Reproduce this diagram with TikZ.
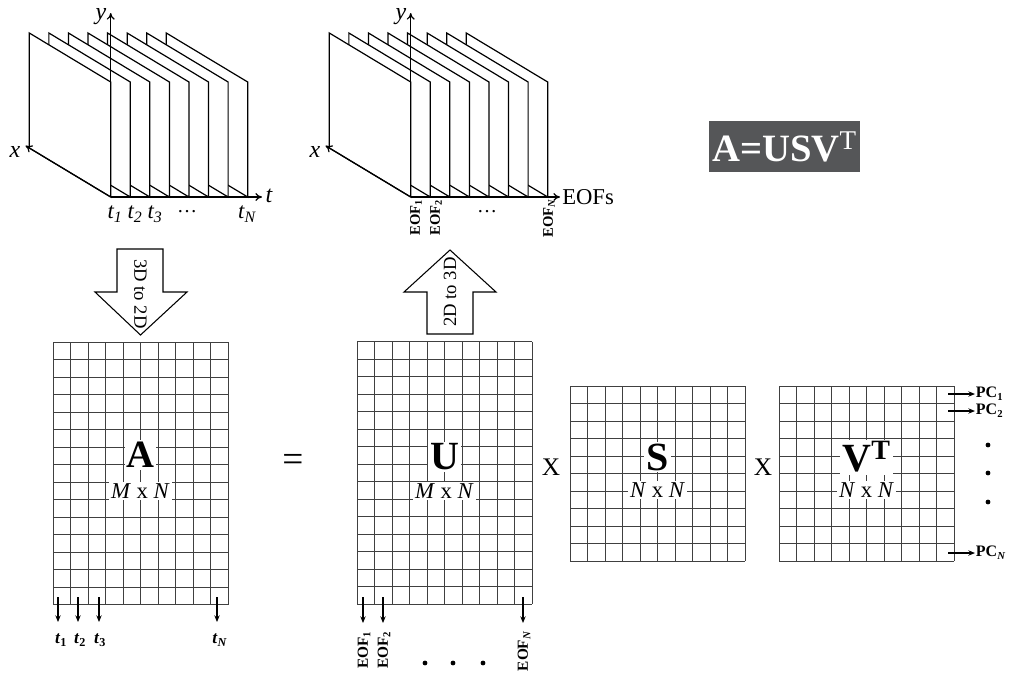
\documentclass[tikz,border=0pt]{standalone}
\usepackage{fontspec}
\setmainfont{Liberation Serif}
\usetikzlibrary{arrows.meta}
\definecolor{boxgray}{HTML}{555658}
\newcommand\fs[1]{\fontsize{#1}{#1}\selectfont}
\newcommand\drawstack[1]{%
  \foreach \k in {7,6,...,0}{%
    \pgfmathsetmacro\L{#1+29.3+19.57*\k}%
    \pgfmathsetmacro\R{\L+81.4}%
    \draw[plane] (\L,33) -- (\R,82) -- (\R,197) -- (\L,148) -- cycle;
  }%
}
\newcommand\matgrid[4]{%
  \foreach \i in {0,...,#3}{\draw[gline] ({#1+\i*17.5},#2) -- ++(0,{#4*17.5});}%
  \foreach \j in {0,...,#4}{\draw[gline] (#1,{#2+\j*17.5}) -- ++({#3*17.5},0);}%
}
\begin{document}
\begin{tikzpicture}[x=0.75pt,y=-0.75pt,
  plane/.style={draw=black,fill=white,line width=0.9pt,line join=miter},
  axis/.style={line width=0.9pt,-{To[length=5pt,width=6pt]}},
  gline/.style={draw=black!75,line width=0.75pt},
  blockarrow/.style={draw=black,fill=white,line width=0.8pt,line join=miter},
  darrow/.style={line width=0.8pt,-{Stealth[length=5pt,width=4pt]}},
  axlab/.style={font=\fs{18}\itshape,inner sep=0pt},
  tlab/.style={font=\fs{17}\itshape,inner sep=0pt},
  eoftop/.style={font=\fs{11}\bfseries,rotate=90,anchor=east,inner sep=0pt},
  eofbot/.style={font=\fs{11.5}\bfseries,rotate=90,anchor=east,inner sep=0pt},
  blab/.style={font=\fs{13}\bfseries,inner sep=0pt},
  pclab/.style={font=\fs{12}\bfseries,anchor=west,inner sep=0.5pt,text height=7pt,text depth=1.5pt},
  bigletter/.style={font=\fs{30}\bfseries,fill=white,inner sep=1.5pt},
  dimlab/.style={font=\fs{17},fill=white,inner sep=1.5pt},
  oplab/.style={font=\fs{19},inner sep=0pt},
  arrtext/.style={font=\fs{14},inner sep=0pt},
  dotnode/.style={circle,fill=black,inner sep=0pt,minimum size=3.6pt}
]
\useasboundingbox (0,0) rectangle (1009,676);

% ---------- left stack ----------
\drawstack{0}
\coordinate (o1) at (110.7,197);
\coordinate (y1) at (110.7,13);
\coordinate (t1) at (262,197);
\coordinate (x1) at (25.5,145.7);
\draw[axis] (o1) -- (y1);
\draw[axis] (o1) -- (t1);
\draw[axis] (o1) -- (x1);
\node[axlab] (ylab1) at (101,17) {y};
\node[axlab] (xlab1) at (15,152) {x};
\node[axlab] (tlab1) at (269,196) {t};
\node[tlab] (tt1) at (115,214) {t\textsubscript{1}};
\node[tlab] (tt2) at (135,214) {t\textsubscript{2}};
\node[tlab] (tt3) at (155,214) {t\textsubscript{3}};
\node[tlab,font=\fs{15}] (ttd) at (187,212) {\dots};
\node[tlab] (ttN) at (247,214) {t\textsubscript{N}};

% ---------- right stack ----------
\drawstack{300}
\coordinate (o2) at (410.7,197);
\coordinate (y2) at (410.7,13);
\coordinate (t2) at (560,197);
\coordinate (x2) at (325.5,145.7);
\draw[axis] (o2) -- (y2);
\draw[axis] (o2) -- (t2);
\draw[axis] (o2) -- (x2);
\node[axlab] (ylab2) at (401,17) {y};
\node[axlab] (xlab2) at (315,152) {x};
\node[font=\fs{17},anchor=west,inner sep=0pt] (eofs) at (562,197) {EOFs};
\node[eoftop] (e1) at (416,199) {EOF\textsubscript{1}};
\node[eoftop] (e2) at (436,199) {EOF\textsubscript{2}};
\node[tlab,font=\fs{15}] (ed) at (487,212) {\dots};
\node[eoftop] (eN) at (549,199) {EOF\textsubscript{\itshape N}};

% ---------- formula box ----------
\node[fill=boxgray,text=white,minimum width=113pt,minimum height=38pt,inner sep=0pt,font=\fs{29}] (formula)
  at (784.5,146.5) {\textbf{A=USV}\textsuperscript{T}};

% ---------- block arrows ----------
\draw[blockarrow] (117,249) -- (163,249) -- (163,292) -- (187,292) -- (140.5,335) -- (95,292) -- (117,292) -- cycle;
\node[arrtext,rotate=-90] (a32) at (140.5,294) {3D to 2D};
\draw[blockarrow] (450,250) -- (496,292) -- (473,292) -- (473,334) -- (427,334) -- (427,292) -- (404,292) -- cycle;
\node[arrtext,rotate=90] (a23) at (450,292) {2D to 3D};

% ---------- matrices ----------
\matgrid{53}{342}{10}{15}
\matgrid{357}{341.5}{10}{15}
\matgrid{570}{386}{10}{10}
\matgrid{779}{386}{10}{10}

\node[bigletter,font=\fs{29}\bfseries] (A) at (140.5,455) {A};
\node[dimlab] (Adim) at (140.5,491) {\textit{M} x \textit{N}};
\node[bigletter] (U) at (444.5,457) {U};
\node[dimlab] (Udim) at (444.5,491) {\textit{M} x \textit{N}};
\node[bigletter] (S) at (657.5,457) {S};
\node[dimlab] (Sdim) at (657.5,490) {\textit{N} x \textit{N}};
\node[bigletter] (V) at (866.5,457) {V\textsuperscript{T}};
\node[dimlab] (Vdim) at (866.5,490) {\textit{N} x \textit{N}};

\node[font=\fs{28}] (eq) at (293,463) {=};
\node[oplab] (x1op) at (551,467) {X};
\node[oplab] (x2op) at (763,467) {X};

% ---------- arrows below A ----------
\foreach \n/\xx in {a/58,b/78,c/99,d/217}{
  \coordinate (A\n s) at (\xx,597);
  \coordinate (A\n e) at (\xx,622);
  \draw[darrow] (A\n s) -- (A\n e);
}
\node[blab] (bt1) at (61,640) {\textit{t}\textsubscript{1}};
\node[blab] (bt2) at (80,640) {\textit{t}\textsubscript{2}};
\node[blab] (bt3) at (100,640) {\textit{t}\textsubscript{3}};
\node[blab] (btN) at (220,640) {\textit{t}\textsubscript{\textit{N}}};

% ---------- arrows below U ----------
\foreach \n/\xx in {a/363,b/383,c/523}{
  \coordinate (U\n s) at (\xx,597);
  \coordinate (U\n e) at (\xx,623);
  \draw[darrow] (U\n s) -- (U\n e);
}
\node[eofbot] (be1) at (364,631) {EOF\textsubscript{1}};
\node[eofbot] (be2) at (384,631) {EOF\textsubscript{2}};
\node[eofbot] (beN) at (524,631) {EOF\textsubscript{\itshape N}};
\node[dotnode] (ud1) at (425,663) {};
\node[dotnode] (ud2) at (453,663) {};
\node[dotnode] (ud3) at (483,663) {};

% ---------- PC arrows ----------
\foreach \n/\yy in {1/394,2/411,N/553}{
  \coordinate (P\n s) at (948,\yy);
  \coordinate (P\n e) at (975,\yy);
  \draw[darrow] (P\n s) -- (P\n e);
}
\node[pclab] (pc1) at (P1e) {PC\textsubscript{1}};
\node[pclab] (pc2) at (P2e) {PC\textsubscript{2}};
\node[pclab] (pcN) at (PNe) {PC\textsubscript{\textit{N}}};
\node[dotnode] (vd1) at (988,445) {};
\node[dotnode] (vd2) at (988,473) {};
\node[dotnode] (vd3) at (988,502) {};
\end{tikzpicture}
\end{document}
